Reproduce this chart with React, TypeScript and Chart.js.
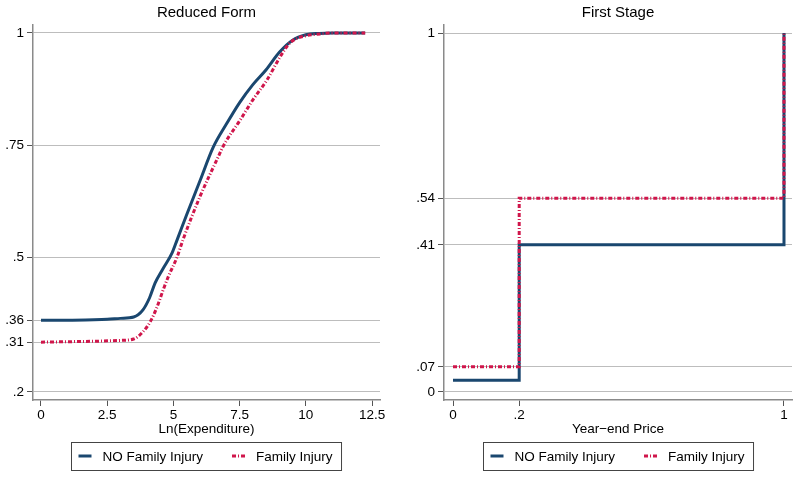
import React, { useEffect, useRef } from "react";
import { Chart, registerables } from "chart.js";

Chart.register(...registerables);

// ---------- Data ----------
// Reduced Form (cumulative share by Ln(Expenditure))
const rfNoX = [0, 1, 2, 2.5, 3, 3.5, 3.85, 4.1, 4.31, 4.6, 4.95, 5.14, 5.5, 6.0, 6.5, 7.0, 7.5, 8.0, 8.5, 9.0, 9.5, 10, 10.5, 11, 12.24];
const rfNoY = [0.360, 0.360, 0.361, 0.362, 0.364, 0.367, 0.383, 0.41, 0.443, 0.474, 0.51, 0.539, 0.595, 0.67, 0.745, 0.797, 0.845, 0.885, 0.918, 0.957, 0.984, 0.996, 0.999, 1.0, 1.0];
const rfInjX = [0, 1, 2, 3, 3.5, 3.85, 4.12, 4.38, 4.61, 4.8, 5.14, 5.36, 6.0, 6.7, 6.9, 7.52, 8.0, 8.53, 9.03, 9.4, 10, 10.4, 11, 12.24];
const rfInjY = [0.311, 0.312, 0.313, 0.315, 0.318, 0.334, 0.356, 0.389, 0.427, 0.456, 0.501, 0.539, 0.635, 0.725, 0.75, 0.806, 0.851, 0.895, 0.947, 0.978, 0.994, 0.997, 1.0, 1.0];

// First Stage (step functions by Year-end Price)
const fsX = [0, 0.2, 0.2, 1, 1];
const fsNoY = [0.033, 0.033, 0.41, 0.41, 1];
const fsInjY = [0.07, 0.07, 0.54, 0.54, 1];

// Tick values
const rfXTicks = [0, 2.5, 5, 7.5, 10, 12.5];
const rfYTicks = [0.2, 0.31, 0.36, 0.5, 0.75, 1];
const fsXTicks = [0, 0.2, 1];
const fsYTicks = [0, 0.07, 0.41, 0.54, 1];

const seriesLabels = ["NO Family Injury", "Family Injury"];
const panelTitles = ["Reduced Form", "First Stage"];
const axisTitles = ["Ln(Expenditure)", "Year\u2212end Price"];

// ---------- Styles ----------
const FONT = "'Liberation Sans', Arial, Helvetica, sans-serif";
const BLUE = "#1a476f";
const RED = "#d0164b";
const GRID = "#bdbdbd";
const AXIS = "#8a8a8a";
const TICK = "#555555";

Chart.defaults.font.family = FONT;
Chart.defaults.color = "#000";

const fmt = (v: number) => {
  if (v === 0) return "0";
  const s = String(v);
  return s.startsWith("0.") ? s.slice(1) : s;
};

const toPts = (xs: number[], ys: number[]) => xs.map((x, i) => ({ x, y: ys[i] }));

const boxLegend = {
  id: "boxLegend",
  afterDraw(chart: any) {
    const { ctx, chartArea } = chart;
    const ds = chart.data.datasets;
    const cx = (chartArea.left + chartArea.right) / 2;
    const top = 442;
    const h = 28;
    const cy = top + h / 2;
    const sample = 13;
    const gapText = 11;
    const gapItem = 29;
    const padL = 7;
    const padR = 9;
    ctx.save();
    ctx.font = `13.5px ${FONT}`;
    const widths = ds.map((d: any) => ctx.measureText(d.label).width);
    let total = padL + padR;
    ds.forEach((_: any, i: number) => {
      total += sample + gapText + widths[i];
      if (i < ds.length - 1) total += gapItem;
    });
    const left = Math.round(cx - total / 2) + 0.5;
    ctx.strokeStyle = "#444";
    ctx.lineWidth = 1;
    ctx.strokeRect(left, top + 0.5, total, h);
    let x = left + padL;
    ds.forEach((d: any, i: number) => {
      ctx.beginPath();
      ctx.strokeStyle = d.borderColor;
      ctx.lineWidth = d.borderWidth;
      ctx.setLineDash(d.borderDash || []);
      ctx.moveTo(x, cy);
      ctx.lineTo(x + sample, cy);
      ctx.stroke();
      ctx.setLineDash([]);
      x += sample + gapText;
      ctx.fillStyle = "#000";
      ctx.textBaseline = "middle";
      ctx.textAlign = "left";
      ctx.fillText(d.label, x, cy + 1);
      x += widths[i] + gapItem;
    });
    ctx.restore();
  },
};

type PanelSpec = {
  title: string;
  xTitle: string;
  datasets: any[];
  xMin: number;
  xMax: number;
  yMin: number;
  yMax: number;
  xTicks: number[];
  yTicks: number[];
  yWidth: number;
  padRight: number;
};

function makeConfig(p: PanelSpec): any {
  return {
    type: "line",
    data: { datasets: p.datasets },
    plugins: [boxLegend],
    options: {
      animation: false,
      responsive: false,
      maintainAspectRatio: false,
      devicePixelRatio: 1,
      layout: { padding: { left: 0, right: p.padRight, top: 0, bottom: 0 } },
      plugins: {
        legend: { display: false },
        tooltip: { enabled: false },
        title: {
          display: true,
          text: p.title,
          fullSize: false,
          color: "#000",
          font: { size: 15, weight: "normal", family: FONT },
          padding: { top: 4, bottom: 3 },
        },
      },
      scales: {
        x: {
          type: "linear",
          min: p.xMin,
          max: p.xMax,
          afterBuildTicks: (s: any) => {
            s.ticks = p.xTicks.map((v) => ({ value: v }));
          },
          afterFit: (s: any) => {
            s.height = 78;
          },
          ticks: {
            autoSkip: false,
            maxRotation: 0,
            padding: 1,
            color: "#000",
            font: { size: 13.5, family: FONT },
            callback: (v: any) => fmt(Number(v)),
          },
          grid: {
            drawOnChartArea: false,
            drawTicks: true,
            tickLength: 6,
            tickColor: TICK,
            tickWidth: 1,
          },
          border: { display: true, color: AXIS, width: 1.5 },
          title: {
            display: true,
            text: p.xTitle,
            color: "#000",
            font: { size: 13.5, family: FONT },
            padding: { top: 0, bottom: 40.9 },
          },
        },
        y: {
          type: "linear",
          min: p.yMin,
          max: p.yMax,
          afterBuildTicks: (s: any) => {
            s.ticks = p.yTicks.map((v) => ({ value: v }));
          },
          afterFit: (s: any) => {
            s.width = p.yWidth;
          },
          ticks: {
            autoSkip: false,
            padding: 3,
            color: "#000",
            font: { size: 13.5, family: FONT },
            callback: (v: any) => fmt(Number(v)),
          },
          grid: {
            drawOnChartArea: true,
            color: GRID,
            lineWidth: 1,
            drawTicks: true,
            tickLength: 6,
            tickColor: TICK,
            tickWidth: 1,
          },
          border: { display: true, color: AXIS, width: 1.5 },
        },
      },
      elements: { point: { radius: 0 } },
    },
  };
}

const lineStyle = (label: string, color: string, dash: number[], order: number, smooth: boolean) => ({
  label,
  borderColor: color,
  backgroundColor: color,
  borderWidth: 3,
  borderDash: dash,
  borderCapStyle: "butt",
  borderJoinStyle: "miter",
  pointRadius: 0,
  fill: false,
  order,
  tension: 0,
  cubicInterpolationMode: smooth ? "monotone" : "default",
});

const RED_DASH = [4, 2, 1, 2];

const leftSpec: PanelSpec = {
  title: panelTitles[0],
  xTitle: axisTitles[0],
  datasets: [
    { ...lineStyle(seriesLabels[0], BLUE, [], 2, true), data: toPts(rfNoX, rfNoY) },
    { ...lineStyle(seriesLabels[1], RED, RED_DASH, 1, true), data: toPts(rfInjX, rfInjY) },
  ],
  xMin: -0.302,
  xMax: 12.8,
  yMin: 0.1821,
  yMax: 1.0178,
  xTicks: rfXTicks,
  yTicks: rfYTicks,
  yWidth: 33,
  padRight: 20,
};

const rightSpec: PanelSpec = {
  title: panelTitles[1],
  xTitle: axisTitles[1],
  datasets: [
    { ...lineStyle(seriesLabels[0], BLUE, [], 2, false), data: toPts(fsX, fsNoY) },
    { ...lineStyle(seriesLabels[1], RED, RED_DASH, 1, false), data: toPts(fsX, fsInjY) },
  ],
  xMin: -0.0272,
  xMax: 1.0242,
  yMin: -0.0223,
  yMax: 1.0223,
  xTicks: fsXTicks,
  yTicks: fsYTicks,
  yWidth: 44,
  padRight: 8,
};

function Panel({ spec, left }: { spec: PanelSpec; left: number }) {
  const ref = useRef<HTMLCanvasElement>(null);
  useEffect(() => {
    const chart = new Chart(ref.current as HTMLCanvasElement, makeConfig(spec));
    return () => chart.destroy();
  }, []);
  return (
    <div style={{ position: "absolute", left, top: 0, width: 400, height: 478 }}>
      <canvas ref={ref} width={400} height={478} style={{ width: 400, height: 478, display: "block" }} />
    </div>
  );
}

export default function App() {
  return (
    <div style={{ position: "absolute", left: 0, top: 0, width: 800, height: 478, background: "#fff", overflow: "hidden" }}>
      <Panel spec={leftSpec} left={0} />
      <Panel spec={rightSpec} left={400} />
    </div>
  );
}
